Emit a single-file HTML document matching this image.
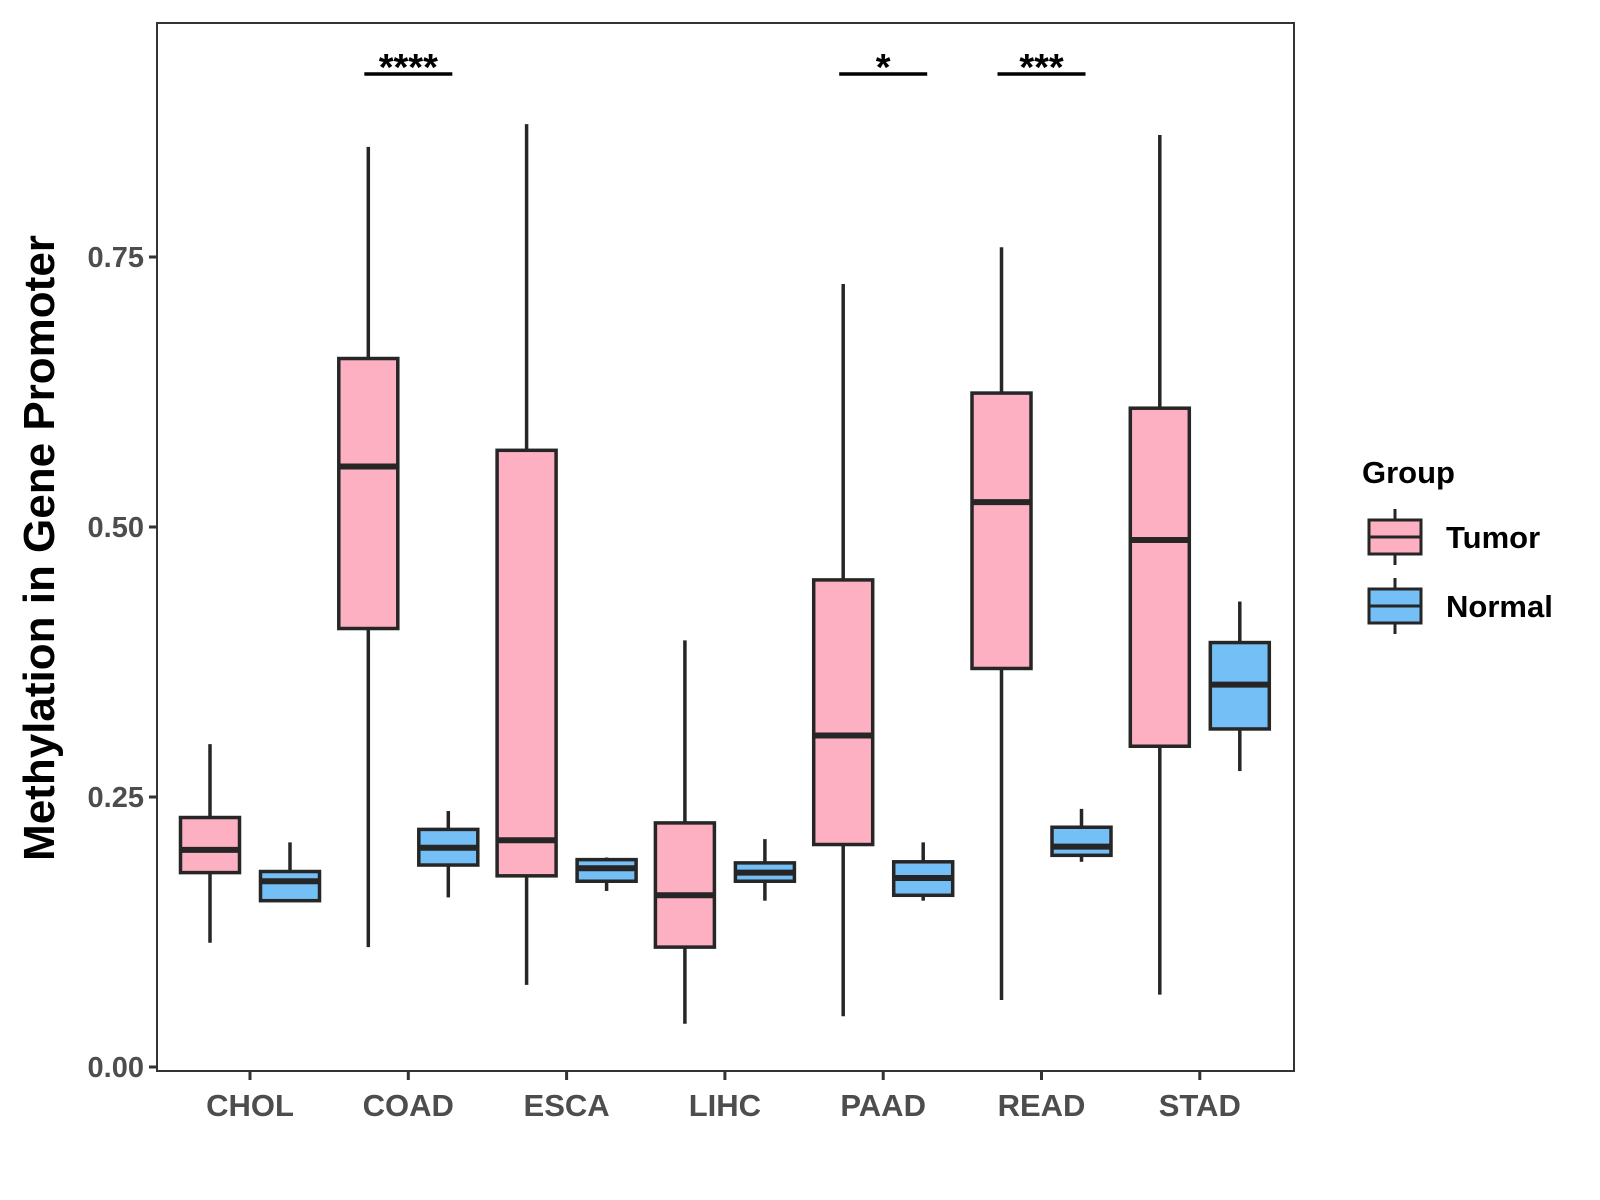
<!DOCTYPE html>
<html><head><meta charset="utf-8"><style>
body{margin:0;background:#fff;}
svg{display:block;font-family:"Liberation Sans",Arial,sans-serif;}
</style></head><body>
<svg id="chart" width="1600" height="1200" xmlns="http://www.w3.org/2000/svg"></svg>
<script>
const categories=["CHOL","COAD","ESCA","LIHC","PAAD","READ","STAD"];
// [low, q1, median, q3, high]
const tumorStats=[[0.115,0.180,0.201,0.231,0.299],[0.111,0.406,0.556,0.656,0.852],[0.076,0.177,0.210,0.571,0.873],[0.040,0.111,0.159,0.226,0.395],[0.047,0.206,0.307,0.451,0.725],[0.062,0.369,0.523,0.624,0.759],[0.067,0.297,0.488,0.610,0.863]];
const normalStats=[[0.154,0.154,0.172,0.181,0.208],[0.157,0.187,0.203,0.220,0.237],[0.163,0.172,0.184,0.192,0.194],[0.154,0.172,0.180,0.189,0.211],[0.154,0.159,0.175,0.190,0.208],[0.190,0.196,0.204,0.222,0.239],[0.274,0.313,0.354,0.393,0.431]];
const yTicks=[0,0.25,0.5,0.75];
const yTickLabels=["0.00","0.25","0.50","0.75"];
const sigCats=["COAD","PAAD","READ"];
const sigLabels=["****","*","***"];

const svg=document.getElementById('chart');
const NS="http://www.w3.org/2000/svg";
const P={l:157,r:1294,t:23,b:1071};
const y=v=>1067-v*1080;
const x=i=>250+i*158.3;
function mk(tag,attrs,parent){const e=document.createElementNS(NS,tag);for(const k in attrs)e.setAttribute(k,attrs[k]);(parent||svg).appendChild(e);return e;}

const panel=mk('rect',{x:P.l,y:P.t,width:P.r-P.l,height:P.b-P.t,fill:'#fff',stroke:'#333','stroke-width':2});



yTicks.forEach((t,i)=>{
  const tk=mk('line',{x1:P.l-8,x2:P.l,y1:y(t),y2:y(t),stroke:'#333','stroke-width':3});
  
  
  const tl=mk('text',{x:P.l-13,y:y(t)+10,'text-anchor':'end','font-size':29,'font-weight':'bold',fill:'#4d4d4d'});
  tl.textContent=yTickLabels[i];
  
  
});
categories.forEach((c,i)=>{
  const tk=mk('line',{x1:x(i),x2:x(i),y1:P.b,y2:P.b+9,stroke:'#333','stroke-width':3});
  
  
  const tl=mk('text',{x:x(i),y:P.b+45,'text-anchor':'middle','font-size':31,'font-weight':'bold',fill:'#4d4d4d'});
  tl.textContent=c;
  
  
});

function box(cx,s,fill,name){
  const g=mk('g',{});
  
  
  const w=59;
  mk('line',{x1:cx,x2:cx,y1:y(s[4]),y2:y(s[3]),stroke:'#262626','stroke-width':3.5},g);
  mk('line',{x1:cx,x2:cx,y1:y(s[1]),y2:y(s[0]),stroke:'#262626','stroke-width':3.5},g);
  mk('rect',{x:cx-w/2,y:y(s[3]),width:w,height:Math.max(y(s[1])-y(s[3]),0.5),fill:fill,stroke:'#262626','stroke-width':3.5},g);
  mk('line',{x1:cx-w/2,x2:cx+w/2,y1:y(s[2]),y2:y(s[2]),stroke:'#262626','stroke-width':6},g);
}
categories.forEach((c,i)=>{
  box(x(i)-40,tumorStats[i],'#FCB0C1','box-tumor-'+c.toLowerCase());
  box(x(i)+40,normalStats[i],'#74BFF6','box-normal-'+c.toLowerCase());
});
sigCats.forEach((c,k)=>{
  const i=categories.indexOf(c);
  const l=mk('line',{x1:x(i)-44,x2:x(i)+44,y1:74,y2:74,stroke:'#000','stroke-width':3.5});
  
  
  const t=mk('text',{x:x(i),y:80,'text-anchor':'middle','font-size':38,'font-weight':'bold',fill:'#000'});
  t.textContent=sigLabels[k];
  
  
});

const yt=mk('text',{x:0,y:0,transform:'translate(54,548) rotate(-90)','text-anchor':'middle','font-size':44,'font-weight':'bold',fill:'#000'});
yt.textContent='Methylation in Gene Promoter';



const lg=mk('g',{});


const ltitle=mk('text',{x:1362,y:483,'font-size':31,'font-weight':'bold',fill:'#000'},lg);
ltitle.textContent='Group';


[['Tumor','#FCB0C1',537],['Normal','#74BFF6',606]].forEach(([n,f,cy])=>{
  const e=mk('g',{},lg);
  
  
  mk('line',{x1:1395,x2:1395,y1:cy-28,y2:cy+28,stroke:'#262626','stroke-width':3},e);
  mk('rect',{x:1369,y:cy-17,width:52,height:34,fill:f,stroke:'#262626','stroke-width':3},e);
  mk('line',{x1:1369,x2:1421,y1:cy,y2:cy,stroke:'#262626','stroke-width':3},e);
  const t=mk('text',{x:1446,y:cy+11,'font-size':31,'font-weight':'bold',fill:'#000'},e);
  t.textContent=n;
});
</script>
</body></html>
